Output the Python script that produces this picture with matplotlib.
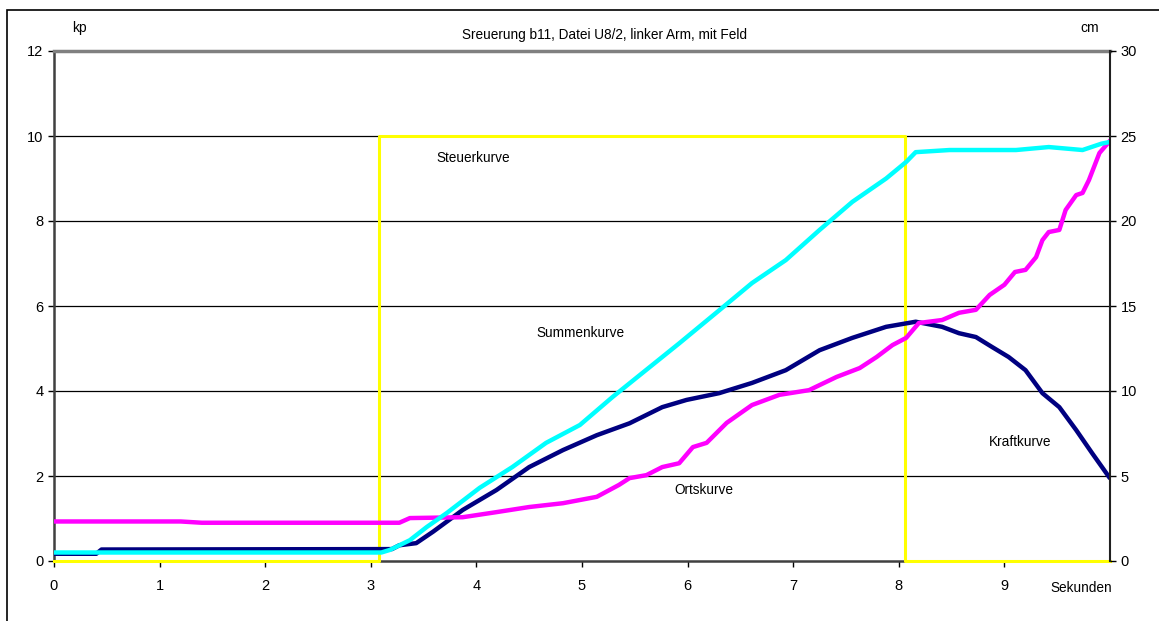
import matplotlib
matplotlib.use('Agg')
import matplotlib.pyplot as plt
from matplotlib.patches import Rectangle

plt.rcParams['font.family'] = ['Liberation Sans', 'DejaVu Sans']

# Steuerkurve (yellow), kp
steuer_t = [0, 3.08, 3.08, 8.06, 8.06, 10]
steuer_v = [0, 0, 10, 10, 0, 0]

# Summenkurve (cyan), kp
summe_t = [0, 3.1, 3.18, 3.37, 3.53, 3.72, 4.03, 4.34, 4.66, 4.98, 5.29, 5.61, 5.92,
           6.3, 6.61, 6.93, 7.25, 7.56, 7.88, 8.07, 8.16, 8.48, 8.79, 9.11, 9.42,
           9.74, 9.92, 10]
summe_v = [0.2, 0.2, 0.26, 0.49, 0.8, 1.13, 1.72, 2.21, 2.78, 3.2, 3.86, 4.5, 5.12,
           5.9, 6.54, 7.08, 7.79, 8.45, 9.0, 9.39, 9.62, 9.67, 9.67, 9.67, 9.74,
           9.67, 9.82, 9.86]

# Kraftkurve (navy), kp
kraft_t = [0, 0.4, 0.45, 3.2, 3.27, 3.43, 3.59, 3.87, 4.19, 4.5, 4.82, 5.14, 5.45,
           5.76, 5.99, 6.3, 6.61, 6.93, 7.25, 7.56, 7.88, 8.16, 8.41, 8.57, 8.73,
           8.88, 9.04, 9.2, 9.36, 9.52, 9.68, 9.83, 9.99]
kraft_v = [0.17, 0.17, 0.27, 0.28, 0.37, 0.42, 0.69, 1.2, 1.67, 2.21, 2.61, 2.96, 3.24,
           3.62, 3.79, 3.95, 4.19, 4.49, 4.96, 5.25, 5.51, 5.63, 5.51, 5.36, 5.27,
           5.04, 4.8, 4.49, 3.95, 3.62, 3.08, 2.54, 1.98]

# Ortskurve (magenta), kp
ort_t = [0, 1.2, 1.4, 3.27, 3.37, 3.87, 4.19, 4.5, 4.82, 5.14, 5.35, 5.45, 5.61,
         5.76, 5.92, 6.05, 6.18, 6.37, 6.61, 6.87, 7.15, 7.41, 7.63, 7.79, 7.94,
         8.07, 8.19, 8.41, 8.57, 8.73, 8.86, 9.0, 9.1, 9.2, 9.3, 9.36, 9.42, 9.52,
         9.58, 9.68, 9.74, 9.8, 9.9, 9.99]
ort_v = [0.93, 0.93, 0.9, 0.9, 1.01, 1.03, 1.15, 1.27, 1.36, 1.51, 1.79, 1.95, 2.02,
         2.21, 2.3, 2.68, 2.78, 3.25, 3.67, 3.91, 4.02, 4.33, 4.54, 4.8, 5.08,
         5.25, 5.6, 5.67, 5.84, 5.91, 6.26, 6.5, 6.8, 6.85, 7.15, 7.55, 7.74, 7.79,
         8.26, 8.61, 8.66, 8.96, 9.6, 9.86]

x_ticks = [0, 1, 2, 3, 4, 5, 6, 7, 8, 9]
kp_ticks = [0, 2, 4, 6, 8, 10, 12]
cm_ticks = [0, 5, 10, 15, 20, 25, 30]

fig = plt.figure(figsize=(11.59, 6.21), dpi=100)
ax = fig.add_axes([54/1159, 1-561/621, (1110-54)/1159, (561-51)/621])

# outer chart frame (cut off at right and bottom)
fig.patches.append(Rectangle((7/1159, -0.1), 1.2, 1.1 - 10/621, transform=fig.transFigure,
                             fill=False, edgecolor='black', linewidth=1.2))

for v in kp_ticks[1:-1]:
    ax.axhline(v, color='black', linewidth=0.9, zorder=1)

ax.plot(steuer_t, steuer_v, color='#FFFF00', linewidth=2.2, zorder=2.6, clip_on=False)
ax.plot(kraft_t, kraft_v, color='#000080', linewidth=3.2, zorder=3)
ax.plot(ort_t, ort_v, color='#FF00FF', linewidth=3.2, zorder=4)
ax.plot(summe_t, summe_v, color='#00FFFF', linewidth=3.2, zorder=5)

ax.set_xlim(0, 10)
ax.set_ylim(0, 12)
ax.set_xticks(x_ticks)
ax.set_yticks(kp_ticks)
ax.tick_params(labelsize=10.5, length=4, width=1, colors='black')
ax.tick_params(axis='x', pad=9)

for s in ['left', 'bottom']:
    ax.spines[s].set_color('#404040')
    ax.spines[s].set_linewidth(1.8)
ax.spines['top'].set_color('#808080')
ax.spines['top'].set_linewidth(2.5)
ax.spines['right'].set_visible(False)

ax2 = ax.twinx()
ax2.set_ylim(0, 30)
ax2.set_yticks(cm_ticks)
ax2.tick_params(labelsize=10.5, length=4, width=1)
for s in ['left', 'top', 'bottom']:
    ax2.spines[s].set_visible(False)
ax2.spines['right'].set_color('#202020')
ax2.spines['right'].set_linewidth(1.5)

fig.text(79/1159, 1-28/621, 'kp', fontsize=10, ha='center', va='center')
fig.text(1090/1159, 1-28/621, 'cm', fontsize=10, ha='center', va='center')
fig.text(605/1159, 1-35/621, 'Sreuerung b11, Datei U8/2, linker Arm, mit Feld',
         fontsize=9.8, ha='center', va='center')
fig.text(1081/1159, 1-588/621, 'Sekunden', fontsize=9.8, ha='center', va='center')

ax.text(3.97, 9.48, 'Steuerkurve', fontsize=9.8, ha='center', va='center')
ax.text(4.99, 5.36, 'Summenkurve', fontsize=9.8, ha='center', va='center')
ax.text(6.15, 1.67, 'Ortskurve', fontsize=9.8, ha='center', va='center')
ax.text(9.15, 2.8, 'Kraftkurve', fontsize=9.8, ha='center', va='center')

fig.savefig('out.png', dpi=100)
plt.close()
